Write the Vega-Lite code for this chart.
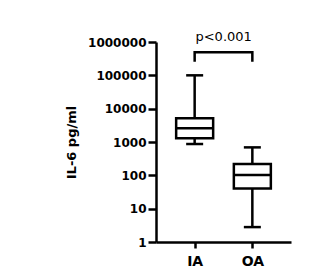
{
  "$schema": "https://vega.github.io/schema/vega-lite/v6.json",
  "width": 135,
  "height": 200,
  "autosize": {"type": "none"},
  "padding": {"left": 156, "top": 42, "right": 43, "bottom": 34},
  "background": "white",
  "config": {
    "view": {"stroke": null},
    "axis": {
      "domainColor": "black",
      "domainWidth": 2.5,
      "tickColor": "black",
      "tickWidth": 2.5,
      "labelColor": "black",
      "titleColor": "black",
      "grid": false,
      "labelFont": "DejaVu Sans",
      "titleFont": "DejaVu Sans",
      "labelFontWeight": "bold",
      "titleFontWeight": "bold"
    }
  },
  "datasets": {
    "boxes": [
      {"group": "IA", "min": 870, "q1": 1290, "median": 2570, "q3": 5130, "max": 100000},
      {"group": "OA", "min": 2.8, "q1": 40, "median": 102, "q3": 219, "max": 690}
    ],
    "bracket": [
      {"group": "IA", "i": 1, "y": 257000},
      {"group": "IA", "i": 2, "y": 490000},
      {"group": "OA", "i": 3, "y": 490000},
      {"group": "OA", "i": 4, "y": 257000}
    ],
    "label": [
      {"group": "IA", "y": 1450000, "text": "p<0.001"}
    ]
  },
  "encoding": {
    "x": {
      "field": "group",
      "type": "nominal",
      "scale": {"type": "point", "padding": 0.67, "domain": ["IA", "OA"]},
      "axis": {
        "title": null,
        "labelAngle": 0,
        "labelFontSize": 14,
        "tickSize": 6,
        "labelPadding": 6
      }
    }
  },
  "layer": [
    {
      "data": {"name": "boxes"},
      "mark": {"type": "rule", "color": "black", "strokeWidth": 2.5},
      "encoding": {
        "y": {
          "field": "min",
          "type": "quantitative",
          "scale": {"type": "log", "domain": [1, 1000000]},
          "axis": {
            "values": [1, 10, 100, 1000, 10000, 100000, 1000000],
            "format": "d",
            "title": "IL-6 pg/ml",
            "titleFontSize": 13,
            "labelFontSize": 12,
            "tickSize": 8,
            "labelPadding": 2,
            "titlePadding": 9
          }
        },
        "y2": {"field": "max"}
      }
    },
    {
      "data": {"name": "boxes"},
      "mark": {"type": "bar", "width": 37, "fill": "white", "stroke": "black", "strokeWidth": 2.5, "opacity": 1},
      "encoding": {
        "y": {"field": "q1", "type": "quantitative"},
        "y2": {"field": "q3"}
      }
    },
    {
      "data": {"name": "boxes"},
      "mark": {"type": "tick", "color": "black", "opacity": 1, "size": 38, "thickness": 2.5, "orient": "horizontal"},
      "encoding": {
        "y": {"field": "median", "type": "quantitative"}
      }
    },
    {
      "data": {"name": "boxes"},
      "mark": {"type": "tick", "color": "black", "opacity": 1, "size": 17, "thickness": 2.5, "orient": "horizontal"},
      "encoding": {
        "y": {"field": "min", "type": "quantitative"}
      }
    },
    {
      "data": {"name": "boxes"},
      "mark": {"type": "tick", "color": "black", "opacity": 1, "size": 17, "thickness": 2.5, "orient": "horizontal"},
      "encoding": {
        "y": {"field": "max", "type": "quantitative"}
      }
    },
    {
      "data": {"name": "bracket"},
      "mark": {"type": "line", "color": "black", "strokeWidth": 2.5, "strokeCap": "butt", "strokeJoin": "miter"},
      "encoding": {
        "y": {"field": "y", "type": "quantitative"},
        "order": {"field": "i", "type": "quantitative"}
      }
    },
    {
      "data": {"name": "label"},
      "mark": {"type": "text", "font": "DejaVu Sans", "fontSize": 13, "color": "black", "dx": 29, "align": "center", "baseline": "middle"},
      "encoding": {
        "y": {"field": "y", "type": "quantitative"},
        "text": {"field": "text"}
      }
    }
  ]
}
